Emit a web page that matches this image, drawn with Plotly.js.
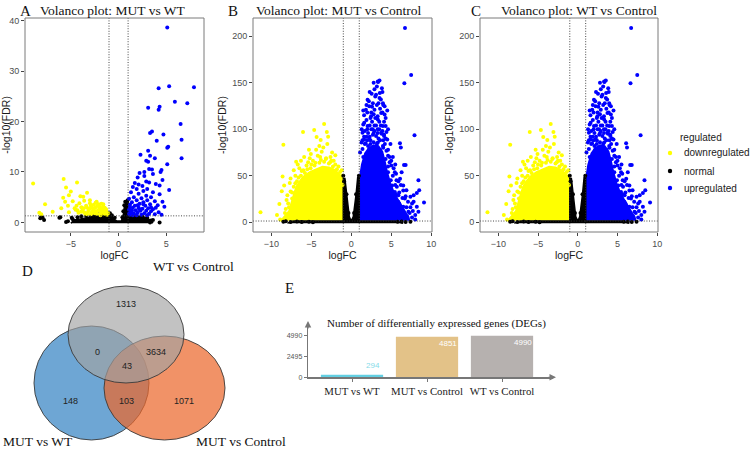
<!DOCTYPE html>
<html><head><meta charset="utf-8">
<script src="https://cdn.plot.ly/plotly-3.0.1.min.js"></script>
<style>html,body{margin:0;padding:0;background:#fff}#chart{width:753px;height:449px}</style>
</head><body><div id="chart"></div>
<script>
// ---------- Panel A : MUT vs WT (logFC, -log10(FDR)) ----------
const A_up = [[5.1,38.6],[4.2,26.6],[5.3,27.0],[7.9,26.8],[5.9,23.9],[7.2,23.6],[3.1,22.7],[4.3,22.9],[4.2,22.3],[6.5,19.5],[3.5,18.0],[3.3,17.7],[4.7,17.4],[4.0,16.2],[6.6,16.4],[5.2,15.0],[5.1,14.8],[3.1,14.2],[3.3,13.2],[2.3,13.4],[3.8,12.7],[6.6,12.7],[2.9,12.2],[3.1,12.0],[5.1,11.5],[4.5,10.4],[4.4,10.0],[3.2,10.6],[3.5,10.5],[2.7,10.0],[2.2,9.8],[2.0,8.9],[2.7,9.2],[3.6,9.6],[4.6,8.4],[2.9,8.1],[3.9,7.6],[1.7,7.8],[2.1,7.5],[3.2,7.9],[2.5,7.2],[4.3,7.3],[5.3,6.4],[3.0,6.6],[1.5,7.0],[1.9,6.6],[2.6,6.2],[3.6,6.0],[4.3,5.6],[1.3,6.0],[2.1,5.7],[2.9,5.3],[3.4,5.0],[1.6,5.0],[2.4,4.8],[1.1,4.7],[1.9,4.4],[3.0,4.4],[3.8,4.2],[4.6,4.1],[1.4,4.0],[2.6,4.0],[2.2,3.7],[3.3,3.6],[1.2,3.5],[1.7,3.3],[2.8,3.3],[4.1,3.4],[4.8,3.1],[1.5,2.9],[2.1,2.9],[2.5,2.7],[3.1,2.8],[3.6,2.6],[1.1,2.5],[1.8,2.4],[2.3,2.3],[2.9,2.3],[3.4,2.2],[4.2,2.0],[1.3,2.0],[1.6,1.8],[2.0,1.9],[2.7,1.8],[3.2,1.7],[3.8,1.6],[1.2,1.5],[2.4,1.5],[3.0,1.4],[4.5,1.5],[1.5,1.4],[1.9,1.4],[1.2,3.0],[1.4,2.4],[2.0,3.4],[2.6,3.6],[3.4,3.0],[3.9,2.9],[1.1,1.7],[2.2,2.6]];
const A_down = [[-8.95,7.7],[-8.3,1.9],[-8.1,1.6],[-7.7,3.6],[-6.9,2.1],[-6.0,2.8],[-5.75,8.6],[-5.5,6.9],[-5.0,6.1],[-4.35,7.9],[-5.8,4.9],[-5.6,4.1],[-4.8,4.2],[-4.6,2.8],[-4.1,3.8],[-3.7,5.1],[-3.3,5.9],[-3.0,3.8],[-3.65,2.8],[-2.7,2.8],[-2.3,4.1],[-2.0,3.1],[-1.65,2.4],[-1.3,2.1],[-3.9,2.1],[-3.2,2.1],[-2.5,1.8],[-2.85,3.1],[-2.15,2.4],[-1.45,2.9],[-1.8,3.7],[-5.3,3.3],[-4.4,3.3],[-3.4,3.3],[-2.6,3.5],[-2.2,3.3],[-1.9,2.2],[-1.5,1.7],[-1.2,1.5],[-2.9,1.6],[-3.5,1.7],[-4.2,1.9],[-3.1,2.5],[-2.4,2.2],[-1.7,1.9],[-2.0,1.6],[-1.1,1.8],[-3.8,2.4],[-4.5,2.5],[-5.2,2.0],[-2.6,2.5],[-3.3,2.9],[-2.0,2.6],[-1.4,2.4],[-1.6,3.2],[-2.4,3.9],[-3.0,4.4],[-3.6,4.3],[-4.0,5.2],[-5.2,5.4],[-3.6,2.0],[-3.3,1.6],[-2.8,2.0],[-2.3,1.7],[-1.9,1.4],[-1.5,2.1],[-1.3,2.6],[-2.7,2.2],[-3.0,2.8],[-2.4,3.0],[-1.8,2.8],[-1.6,3.6],[-2.1,3.6],[-2.9,3.4],[-3.9,3.0],[-4.3,2.4]];
const A_norm = [[-8.1,1.1],[-8.2,0.8],[-7.8,0.5],[-7.95,0.9],[-6.2,0.9],[-6.1,1.0],[-5.3,0.25],[-4.8,0.65],[-5.5,0.1],[-4.9,0.9],[-4.3,1.0],[-3.9,1.2],[-3.4,1.3],[-2.5,1.5],[-2.0,1.6],[-1.6,1.7],[-1.2,1.9],[-0.9,1.8],[-0.7,1.4],[0.6,3.4],[0.7,4.1],[0.95,4.4],[0.95,3.6],[1.5,1.2],[1.8,1.25],[2.5,1.1],[3.0,0.9],[3.4,0.4],[3.6,0.5],[4.3,0.0],[3.3,0.0],[-4.6,0.3],[-0.4,0.9],[0.4,1.0],[0.5,2.2],[0.95,2.5],[2.0,0.8],[-2.9,1.3]];
const A_normCore = [[-5.0,-0.15],[-4.6,0.5],[-4.0,0.7],[-3.3,1.0],[-2.6,1.2],[-1.9,1.3],[-1.3,1.6],[-1.0,1.7],[-0.7,1.2],[-0.45,0.6],[-0.2,0.3],[0.3,0.3],[0.5,1.5],[0.6,3.0],[0.8,4.0],[1.0,4.2],[1.1,3.0],[1.2,1.3],[2.2,1.2],[2.8,1.0],[3.2,0.6],[3.5,0.2],[3.6,-0.15]];

// ---------- Panels B and C : MUT vs Control / WT vs Control (identical in the figure) ----------
const BC_downCore = [[-8.6,1.5],[-8.4,6],[-7.8,12],[-7.5,22],[-7.2,30],[-6.9,38],[-6.4,45],[-6.0,49],[-5.2,54],[-4.4,57],[-3.6,60],[-2.8,59],[-2.2,57],[-1.6,53],[-1.05,47],[-1.05,1.5]];
const BC_down = [[-11.36,10.6],[-8.5,83.2],[-6.04,97],[-4.64,99.1],[-3.4,105.5],[-4.34,91.7],[-3.06,97],[-2.9,92],[-3.83,88.5],[-5.06,73.3],[-5.2,68.7],[-6.9,65.1],[-5.4,64.4],[-4.2,71.5],[-8.6,49.2],[-7.7,42.1],[-8.4,39.6],[-6.5,58],[-9.0,19.5],[-8.7,33.3],[-8.0,29],[-9.3,7.8],[-8.2,14.2],[-7.4,25.5],[-3.5,80.4],[-3.7,75.8],[-3.15,68.7],[-2.64,64.4],[-7.6,33],[-7.2,38],[-6.8,44],[-6.3,50],[-5.8,53],[-5.1,58],[-4.6,61],[-4.0,64],[-3.4,65],[-2.8,63],[-2.3,60],[-1.8,57],[-1.4,54],[-1.1,50],[-7.9,20],[-8.3,10],[-8.9,3],[-8.6,2],[-7.7,5],[-2.2,66],[-4.8,66],[-5.6,61],[-6.2,55],[-3.9,70],[-2.6,70],[-7.0,50],[-7.6,47],[-8.1,24],[-7.0,30],[-1.3,45],[-1.1,40],[-6.7,62],[-4.4,78],[-2.4,75],[-5.9,70],[-7.8,16],[-7.4,32],[-7.0,42],[-6.6,48],[-6.0,56],[-5.5,57],[-5.0,62],[-4.5,64],[-3.8,67],[-3.2,68],[-2.5,66],[-2.0,62],[-1.6,60],[-1.2,56],[-8.0,8],[-8.4,4],[-5.3,78],[-4.0,82],[-3.0,84],[-6.3,66],[-2.0,72],[-7.2,56]];
const BC_upCore = [[1.05,1.5],[1.05,48],[1.3,62],[1.7,74],[2.2,80],[2.8,83],[3.4,82],[3.9,76],[4.2,66],[4.5,54],[4.9,42],[5.3,33],[5.8,25],[6.3,18],[6.8,11],[7.2,5],[7.3,1.5]];
const BC_up = [[6.72,208.8],[7.49,158.2],[6.64,149.4],[7.91,93.5],[6.09,85],[6.2,80.4],[6.6,61.6],[6.8,61.6],[8.4,45],[6.3,53.8],[8.5,34.3],[8.2,31.5],[7.8,29],[9.1,21.2],[7.6,20.2],[6.7,25.5],[5.9,29],[5.45,23.7],[4.6,29],[5.1,39.6],[5.66,45],[4.6,53.8],[4.8,64.4],[4.4,76.8],[4.1,92.7],[3.96,103.4],[3.74,117.5],[4.17,124.6],[3.53,133.5],[3.32,151.2],[3.53,152.2],[2.9,143],[2.55,138],[3.1,137],[2.04,131.7],[1.83,121],[2.25,124.6],[3.96,128],[4.17,115.8],[1.62,107],[1.4,96.3],[1.28,85.7],[1.1,75],[2.47,114],[2.9,121],[3.32,110.4],[3.74,96.3],[4.3,103.4],[4.5,89],[2.04,103.4],[2.68,99.8],[3.1,92.7],[2.25,89],[3.32,85.7],[3.96,82],[1.6,89],[1.4,78.6],[4.6,71.5],[5.0,60.9],[5.45,53.8],[6.1,46.7],[6.5,39.6],[6.9,34.3],[7.4,27.3],[7.8,21.9],[8.2,16.6],[8.4,11.3],[8.0,7.8],[7.15,11.3],[6.5,16.6],[5.87,21.9],[5.45,32.6],[4.94,45],[6.7,7.8],[6.1,6],[3.32,75],[2.68,76.8],[3.74,71.5],[2.1,82],[3.57,138.8],[3.83,144],[3.36,150.8],[1.8,85],[2.3,92],[2.8,96],[3.3,100],[3.8,95],[2.0,100],[2.6,108],[3.0,112],[3.5,108],[4.0,88],[1.5,70],[2.2,78],[3.0,80],[3.6,78],[4.3,68],[2.5,118],[3.2,126],[1.9,110],[3.7,132],[4.6,60],[5.2,50],[5.7,38],[6.0,32],[2.9,104],[3.4,90],[2.4,88],[1.6,92],[4.1,108],[3.9,118],[2.7,128],[3.0,135],[4.4,97],[7.6,5],[8.0,3],[7.0,6],[1.3,100],[1.5,105],[1.7,98],[1.9,92],[2.1,96],[2.3,104],[2.5,100],[2.7,94],[2.9,98],[3.1,104],[3.3,96],[3.5,100],[3.7,104],[3.9,98],[4.1,94],[4.3,90],[1.4,88],[1.7,84],[2.0,88],[2.4,84],[2.8,86],[3.2,84],[3.6,88],[4.0,80],[4.2,84],[4.6,78],[4.8,70],[5.0,66],[5.3,58],[5.6,52],[5.9,44],[6.2,40],[6.5,34],[6.8,28],[7.1,22],[7.4,16],[7.7,12],[5.2,70],[5.5,62],[4.9,84],[1.6,115],[2.0,118],[2.4,112],[2.8,116],[3.3,114],[3.6,122],[4.0,126],[4.3,112],[2.2,130],[2.6,124],[3.4,128],[3.9,140],[2.3,140],[2.8,150],[3.2,146],[4.6,100],[4.5,120],[1.9,126],[1.5,120],[5.6,30],[6.0,20],[6.4,26],[5.2,26],[5.5,40],[6.9,16],[7.3,10],[6.4,12],[5.8,12]];
const BC_normCore = [[-8.0,-1],[-7.2,1.2],[-1.0,1.2],[-1.0,47],[-0.8,47],[-0.6,30],[-0.4,15],[-0.25,6],[-0.1,3],[0.1,3],[0.25,6],[0.4,15],[0.6,30],[0.8,48],[1.0,48],[1.0,1.2],[5.5,1.2],[6.5,-1]];
const BC_norm = [[-8.5,0.6],[-8.2,1.0],[-7.6,0.3],[-6.8,0.8],[-6.2,0.2],[-5.3,0.6],[-4.8,0.1],[5.8,0.5],[6.3,0.9],[6.8,0.3],[7.4,0.6],[-1.0,50],[0.95,50],[-0.9,44],[-0.6,30],[0.6,30],[-0.35,10],[0.35,10]];

// thresholds
const fcCut = [-1, 1];
const fdrCut = 1.3;

// legend entries
const legendTitle = 'regulated';
const legendNames = ['downregulated', 'normal', 'upregulated'];

// ---------- Venn (D) ----------
const vennSets = ['WT vs Control', 'MUT vs WT', 'MUT vs Control'];
const vennCounts = [1313, 0, 3634, 43, 148, 103, 1071];

// ---------- Bar chart (E) ----------
const barCats = ['MUT vs WT', 'MUT vs Control', 'WT vs Control'];
const barVals = [294, 4851, 4990];
const barTicks = [0, 2495, 4990];

const W = 753, H = 449;
const px = v => v / W, py = v => 1 - v / H;
const SANS = 'Liberation Sans, Arial, sans-serif';
const SERIF = 'Liberation Serif, Times New Roman, serif';
const YEL = '#ffff00', BLK = '#000000', BLU = '#0000ff';
const legColors = [YEL, BLK, BLU];

function pts(arr, color, xa, ya) {
  return {type:'scatter', mode:'markers', x:arr.map(p=>p[0]), y:arr.map(p=>p[1]), xaxis:xa, yaxis:ya,
    marker:{color:color, size:4}, showlegend:false, hoverinfo:'skip'};
}
function poly(arr, color, xa, ya) {
  return {type:'scatter', mode:'lines', x:arr.map(p=>p[0]), y:arr.map(p=>p[1]), xaxis:xa, yaxis:ya,
    fill:'toself', fillcolor:color, line:{color:color, width:1.5}, showlegend:false, hoverinfo:'skip'};
}

const traces = [];
traces.push(poly(A_normCore, BLK, 'x', 'y'));
traces.push(pts(A_norm, BLK, 'x', 'y'));
traces.push(pts(A_down, YEL, 'x', 'y'));
traces.push(pts(A_up, BLU, 'x', 'y'));
[['x2','y2'],['x3','y3']].forEach(([xa,ya])=>{
  traces.push(poly(BC_downCore, YEL, xa, ya));
  traces.push(poly(BC_upCore, BLU, xa, ya));
  traces.push(poly(BC_normCore, BLK, xa, ya));
  traces.push(pts(BC_down, YEL, xa, ya));
  traces.push(pts(BC_norm, BLK, xa, ya));
  traces.push(pts(BC_up, BLU, xa, ya));
});
traces.push({type:'bar', x:barCats, y:barVals, xaxis:'x4', yaxis:'y4', width:0.83,
  marker:{color:['#63cfe2','#e3c288','#b6b1af']}, showlegend:false, hoverinfo:'skip'});

function vx(dom, range, ticks) {
  return {domain:dom, range:range, tickvals:ticks, ticks:'outside', ticklen:3, tickcolor:'#444', tickwidth:1,
    tickfont:{family:SANS, size:9, color:'#4d4d4d'}, showline:false, showgrid:false, zeroline:false, fixedrange:true,
    title:{text:'logFC', font:{family:SANS, size:10.5, color:'#1a1a1a'}, standoff:0}};
}
function vy(dom, range, ticks, anchor) {
  return {domain:dom, range:range, tickvals:ticks, ticks:'outside', ticklen:3, tickcolor:'#444', tickwidth:1,
    tickfont:{family:SANS, size:9, color:'#4d4d4d'}, showline:false, showgrid:false, zeroline:false, fixedrange:true,
    anchor:anchor, title:{text:'-log10(FDR)', font:{family:SANS, size:10.5, color:'#1a1a1a'}, standoff:3}};
}
const yDom = [py(232), py(18)];

const DOTS = '1px,1.6px';
const shapes = [];
[['x','y'],['x2','y2'],['x3','y3']].forEach(([xa,ya])=>{
  fcCut.forEach(c=>shapes.push({type:'line', xref:xa, yref:ya+' domain', x0:c, x1:c, y0:0, y1:1,
    line:{color:'#333', width:0.9, dash:DOTS}}));
  shapes.push({type:'line', xref:xa+' domain', yref:ya, x0:0, x1:1, y0:fdrCut, y1:fdrCut,
    line:{color:'#333', width:0.9, dash:DOTS}});
  shapes.push({type:'rect', xref:xa+' domain', yref:ya+' domain', x0:0, x1:1, y0:0, y1:1,
    line:{color:'#7a7a7a', width:1}, fillcolor:'rgba(0,0,0,0)'});
});
// Venn ellipses (pixel boxes), drawn blue, orange, gray (gray on top)
const ell = (x0,x1,y0,y1,fill)=>({type:'circle', xref:'paper', yref:'paper', x0:px(x0), x1:px(x1), y0:py(y1), y1:py(y0),
  fillcolor:fill, line:{color:'#3a3a3a', width:0.9}});
shapes.push(ell(34,149,326,440,'rgba(49,128,194,0.70)'));
shapes.push(ell(104,225,336,440,'rgba(236,104,44,0.72)'));
shapes.push(ell(68,184,286,383,'rgba(162,162,162,0.66)'));
// legend keys
legColors.forEach((c,i)=>{
  const yy = [153,171,188][i];
  shapes.push({type:'circle', xref:'paper', yref:'paper', x0:px(667.8), x1:px(672.2), y0:py(yy+2.2), y1:py(yy-2.2),
    fillcolor:c, line:{width:0}});
});

const ann = [];
const txt = (x,y,t,size,fam,color,xanchor)=>({x:px(x), y:py(y), xref:'paper', yref:'paper', text:t, showarrow:false,
  xanchor:xanchor||'center', yanchor:'middle', font:{size:size, family:fam, color:color||'#111'}});
ann.push(txt(25,11,'A',15,SERIF));
ann.push(txt(113,10,'Volanco plot: MUT vs WT',13.5,SERIF));
ann.push(txt(233,11,'B',15,SERIF));
ann.push(txt(339,10,'Volanco plot: MUT vs Control',13.5,SERIF));
ann.push(txt(476,11,'C',15,SERIF));
ann.push(txt(579,10,'Volanco plot: WT vs Control',13.5,SERIF));
ann.push(txt(27,271,'D',15,SERIF));
ann.push(txt(289,288,'E',15,SERIF));
// legend text
ann.push(txt(678,137,legendTitle,10,SANS,'#222','left'));
legendNames.forEach((n,i)=>ann.push(txt(682,[153,171,188][i],n,10,SANS,'#222','left')));
// Venn set labels
ann.push(txt(193,266,vennSets[0],13.5,SERIF));
ann.push(txt(38,441,vennSets[1],13.5,SERIF));
ann.push(txt(241,441,vennSets[2],13.5,SERIF));
// Venn counts
const vennPos = [[126,304],[97,352],[156,352],[127,366],[70,401],[127,401],[184,401]];
vennCounts.forEach((c,i)=>ann.push(txt(vennPos[i][0], vennPos[i][1], String(c), 9, SANS, '#222')));
// bar title
ann.push(txt(325,323,'Number of differentially expressed genes (DEGs)',11,SERIF,'#111','left'));
// bar value labels
barVals.forEach((v,i)=>ann.push({x:barCats[i], y:v, xref:'x4', yref:'y4', text:String(v), showarrow:false,
  xshift:21, yshift: i===0 ? 9 : -7, xanchor:'center', yanchor:'middle',
  font:{family:SANS, size:8, color: i===0 ? '#86dbe9' : '#ffffff'}}));
// axis arrows
ann.push({x:px(308), y:py(321), xref:'paper', yref:'paper', ax:0, ay:9, showarrow:true, arrowhead:2, arrowsize:1,
  arrowwidth:1.3, arrowcolor:'#777', text:''});
ann.push({x:px(556), y:py(377.3), xref:'paper', yref:'paper', ax:-9, ay:0, showarrow:true, arrowhead:2, arrowsize:1,
  arrowwidth:1.3, arrowcolor:'#777', text:''});

const layout = {
  width:W, height:H, margin:{l:0,r:0,t:0,b:0}, paper_bgcolor:'#fff', plot_bgcolor:'rgba(0,0,0,0)',
  showlegend:false,
  xaxis: vx([px(25),px(204)], [-9.8,8.95], [-5,0,5]),
  yaxis: vy(yDom, [-1.9,40.5], [0,10,20,30,40], 'x'),
  xaxis2: vx([px(253),px(432)], [-12.3,10.1], [-10,-5,0,5,10]),
  yaxis2: vy(yDom, [-10.5,219.5], [0,50,100,150,200], 'x2'),
  xaxis3: vx([px(480),px(658)], [-12.3,10.1], [-10,-5,0,5,10]),
  yaxis3: vy(yDom, [-10.5,219.5], [0,50,100,150,200], 'x3'),
  xaxis4: {domain:[px(308),px(553)], range:[-0.587,2.68], type:'category', tickvals:barCats, tickangle:0, ticks:'outside', ticklen:3,
    tickcolor:'#777', showline:true, linecolor:'#777', linewidth:1.3, showgrid:false, zeroline:false, fixedrange:true,
    tickfont:{family:SERIF, size:10.8, color:'#1a1a1a'}, anchor:'y4'},
  yaxis4: {domain:[py(377.3),py(323)], range:[0,6513], tickvals:barTicks, ticktext:barTicks.map(String), ticks:'outside',
    ticklen:3, tickcolor:'#777', showline:true, linecolor:'#777', linewidth:1.3, showgrid:false, zeroline:false,
    fixedrange:true, tickfont:{family:SANS, size:7, color:'#555'}, anchor:'x4'},
  shapes:shapes, annotations:ann
};
Plotly.newPlot('chart', traces, layout, {displayModeBar:false, staticPlot:true});
</script></body></html>
